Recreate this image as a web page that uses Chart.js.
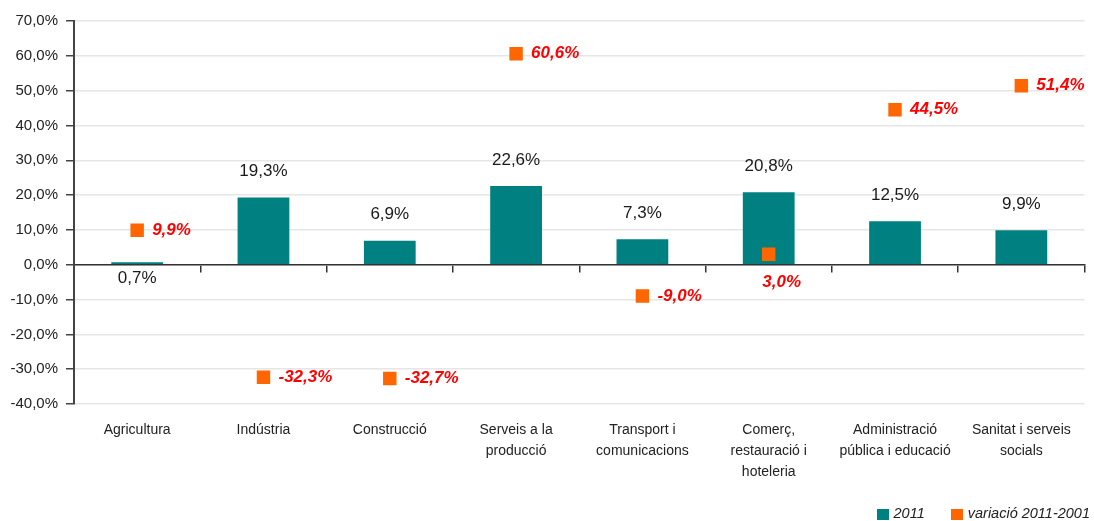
<!DOCTYPE html>
<html lang="ca">
<head>
    <meta charset="UTF-8">
    <title>Ocupació per sectors</title>
    <script src="https://cdn.jsdelivr.net/npm/chart.js"></script>
    <style>
        body { margin: 0; background: #fff; }
        .chart-container { position: relative; width: 1094px; height: 521px; }
        .custom-legend {
            position: absolute;
            right: 4px;
            top: 505px;
            display: flex;
            gap: 26px;
            font: italic 14.5px 'Liberation Sans', Arial, sans-serif;
            color: #222;
            line-height: 16px;
        }
        .custom-legend-item { display: flex; align-items: center; }
        .custom-legend-box { width: 12px; height: 11px; margin-right: 5px; margin-top: 2px; }
    </style>
</head>
<body>
    <div class="chart-container">
        <canvas id="sectorChart"></canvas>
    </div>
    <script>
        const categories = [
            'Agricultura',
            'Indústria',
            'Construcció',
            ['Serveis a la', 'producció'],
            ['Transport i', 'comunicacions'],
            ['Comerç,', 'restauració i', 'hoteleria'],
            ['Administració', 'pública i educació'],
            ['Sanitat i serveis', 'socials']
        ];
        const share2011 = [0.7, 19.3, 6.9, 22.6, 7.3, 20.8, 12.5, 9.9];
        const variacio = [9.9, -32.3, -32.7, 60.6, -9.0, 3.0, 44.5, 51.4];
        const yTicks = [-40, -30, -20, -10, 0, 10, 20, 30, 40, 50, 60, 70];

        // where the red labels go (most sit right of the square)
        const variacioLabelSide = ['right', 'right', 'right', 'right', 'right', 'below', 'right', 'right'];

        const fmt = v => v.toFixed(1).replace('.', ',') + '%';
        const FONT = "'Liberation Sans', Arial, sans-serif";

        // draws the value labels
        const valueLabels = {
            id: 'valueLabels',
            afterDatasetsDraw(chart) {
                const ctx = chart.ctx;
                const y = chart.scales.y;
                const zeroY = y.getPixelForValue(0);
                ctx.save();

                ctx.font = '17px ' + FONT;
                ctx.fillStyle = '#1a1a1a';
                ctx.textAlign = 'center';
                ctx.textBaseline = 'middle';
                chart.getDatasetMeta(0).data.forEach((bar, i) => {
                    const v = share2011[i];
                    if (v < 2) {
                        ctx.fillText(fmt(v), bar.x, zeroY + 14);
                    } else {
                        ctx.fillText(fmt(v), bar.x, bar.y - 26);
                    }
                });

                ctx.font = 'italic bold 17px ' + FONT;
                ctx.fillStyle = '#ff0000';
                chart.getDatasetMeta(1).data.forEach((pt, i) => {
                    const txt = fmt(variacio[i]);
                    if (variacioLabelSide[i] === 'below') {
                        ctx.textAlign = 'center';
                        ctx.fillText(txt, pt.x + 13, zeroY + 18);
                    } else {
                        ctx.textAlign = 'left';
                        ctx.fillText(txt, pt.x + 15, pt.y);
                    }
                });
                ctx.restore();
            }
        };

        const ctx = document.getElementById('sectorChart').getContext('2d');
        const sectorChart = new Chart(ctx, {
            type: 'bar',
            data: {
                labels: categories,
                datasets: [
                    {
                        label: '2011',
                        data: share2011,
                        backgroundColor: '#008080',
                        barPercentage: 0.41,
                        categoryPercentage: 1,
                        order: 1
                    },
                    {
                        type: 'line',
                        label: 'variació 2011-2001',
                        data: variacio,
                        showLine: false,
                        backgroundColor: '#ff6600',
                        borderColor: '#ff6600',
                        borderWidth: 0,
                        pointStyle: 'rect',
                        pointRadius: 9.5,
                        pointBorderWidth: 0,
                        order: 0
                    }
                ]
            },
            options: {
                responsive: true,
                maintainAspectRatio: false,
                animation: false,
                layout: { padding: { top: 21, right: 4, left: 0, bottom: 0 } },
                plugins: {
                    legend: { display: false },
                    tooltip: { enabled: false }
                },
                scales: {
                    x: {
                        offset: true,
                        grid: { display: false },
                        border: { display: false },
                        ticks: {
                            color: '#222',
                            padding: 8,
                            maxRotation: 0,
                            autoSkip: false,
                            font: { family: FONT, size: 14, lineHeight: 1.5 }
                        },
                        afterFit: s => { s.height = 117; }
                    },
                    x2: {
                        type: 'category',
                        position: { y: 0 },
                        offset: true,
                        grid: {
                            offset: true,
                            drawOnChartArea: false,
                            tickLength: 7,
                            color: '#333',
                            lineWidth: 1.5
                        },
                        border: { display: true, color: '#333', width: 1.5 },
                        ticks: { display: false }
                    },
                    y: {
                        min: -40,
                        max: 70,
                        afterBuildTicks: s => { s.ticks = yTicks.map(v => ({ value: v })); },
                        grid: {
                            color: '#e6e6e6',
                            lineWidth: 1.5,
                            tickLength: 8,
                            tickColor: '#444'
                        },
                        border: { color: '#444', width: 2 },
                        ticks: {
                            color: '#222',
                            padding: 8,
                            font: { family: FONT, size: 15 },
                            callback: v => fmt(v)
                        },
                        afterFit: s => { s.width = 74; }
                    }
                }
            },
            plugins: [valueLabels]
        });

        // Custom legend
        const legendContainer = document.createElement('div');
        legendContainer.className = 'custom-legend';

        sectorChart.data.datasets.forEach(ds => {
            const legendItem = document.createElement('div');
            legendItem.className = 'custom-legend-item';

            const colorBox = document.createElement('div');
            colorBox.className = 'custom-legend-box';
            colorBox.style.backgroundColor = ds.backgroundColor;

            const text = document.createElement('span');
            text.textContent = ds.label;

            legendItem.appendChild(colorBox);
            legendItem.appendChild(text);
            legendContainer.appendChild(legendItem);
        });

        document.querySelector('.chart-container').appendChild(legendContainer);
    </script>
</body>
</html>
